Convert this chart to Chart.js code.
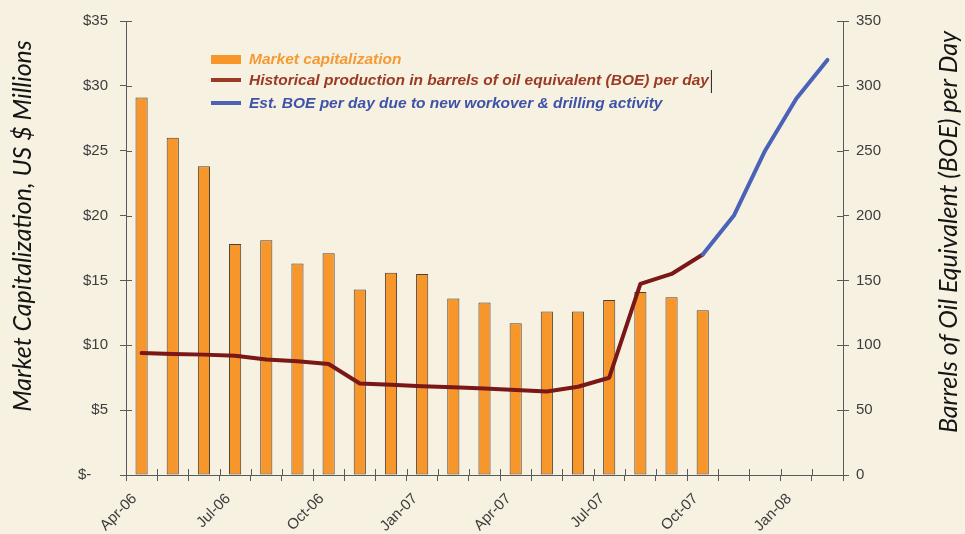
<!DOCTYPE html>
<html>
<head>
<meta charset="utf-8">
<script src="https://cdn.jsdelivr.net/npm/chart.js@4.4.0/dist/chart.umd.min.js"></script>
<style>
  html, body { margin: 0; padding: 0; background: #f6f1e1; }
  #grafico { display: block; background: #f6f1e1; }
</style>
</head>
<body>
<canvas id="grafico" width="965" height="534"></canvas>
<script>
// datos
const meses = ['Apr-06', 'May-06', 'Jun-06', 'Jul-06', 'Aug-06', 'Sep-06', 'Oct-06', 'Nov-06', 'Dec-06',
  'Jan-07', 'Feb-07', 'Mar-07', 'Apr-07', 'May-07', 'Jun-07', 'Jul-07', 'Aug-07', 'Sep-07', 'Oct-07',
  'Nov-07', 'Dec-07', 'Jan-08', 'Feb-08'];
const capitalizacion = [29.1, 26.0, 23.8, 17.8, 18.1, 16.3, 17.1, 14.3, 15.6, 15.5, 13.6, 13.3, 11.7,
  12.6, 12.6, 13.5, 14.1, 13.7, 12.7];
const produccionHistorica = [94, 93.3, 92.8, 92, 89, 87.7, 85.6, 70.5, 69.5, 68.5, 67.7, 66.7, 65.6,
  64.4, 68, 75, 147.4, 155, 170];
const produccionEstimada = [null, null, null, null, null, null, null, null, null, null, null, null, null,
  null, null, null, null, null, 170, 200, 250, 290, 320];
const etiquetasIzq = ['$-    ', '$5', '$10', '$15', '$20', '$25', '$30', '$35'];
const etiquetasDer = ['0', '50', '100', '150', '200', '250', '300', '350'];
const nombres = ['Market capitalization',
  'Historical production in barrels of oil equivalent (BOE) per day',
  'Est. BOE per day due to new workover & drilling activity'];
const tituloIzq = 'Market Capitalization, US $ Millions';
const tituloDer = 'Barrels of Oil Equivalent (BOE) per Day';

const colorEje = '#5a5a5a';
const colorTexto = '#3d3d3d';
const fuenteTicks = '"Liberation Sans", Arial, sans-serif';
const coloresLeyenda = ['#f59a35', '#9c3a23', '#3e53a8'];

// marcas que cruzan los ejes, titulos y leyenda
const extras = {
  id: 'extras',
  afterDraw(chart) {
    const { ctx, chartArea, scales } = chart;
    ctx.save();
    ctx.strokeStyle = colorEje;
    ctx.lineWidth = 1;
    ctx.beginPath();
    scales.y.ticks.forEach((t, i) => {
      const y = Math.round(scales.y.getPixelForTick(i)) + 0.5;
      ctx.moveTo(chartArea.left, y); ctx.lineTo(chartArea.left + 6, y);
    });
    scales.y1.ticks.forEach((t, i) => {
      const y = Math.round(scales.y1.getPixelForTick(i)) + 0.5;
      ctx.moveTo(chartArea.right - 6, y); ctx.lineTo(chartArea.right, y);
    });
    const paso = scales.x.getPixelForValue(1) - scales.x.getPixelForValue(0);
    for (let i = 0; i <= meses.length; i++) {
      const x = Math.round(scales.x.getPixelForValue(0) - paso / 2 + i * paso) + 0.5;
      ctx.moveTo(x, chartArea.bottom - 6); ctx.lineTo(x, chartArea.bottom);
    }
    ctx.stroke();

    // titulos de los ejes
    ctx.fillStyle = '#151515';
    ctx.font = 'italic 25px Lato, sans-serif';
    ctx.textAlign = 'center';
    ctx.textBaseline = 'middle';
    ctx.save();
    ctx.translate(23, 226); ctx.rotate(-Math.PI / 2);
    ctx.fillText(tituloIzq, 0, 0);
    ctx.restore();
    ctx.save();
    ctx.translate(949, 232); ctx.rotate(-Math.PI / 2);
    ctx.fillText(tituloDer, 0, 0);
    ctx.restore();

    // leyenda
    const filas = [60, 81, 104];
    ctx.textAlign = 'left';
    ctx.font = 'italic bold 15.5px "Liberation Sans", Arial, sans-serif';
    chart.data.datasets.forEach((ds, i) => {
      const y = filas[i];
      if (i === 0) {
        ctx.fillStyle = ds.backgroundColor;
        ctx.fillRect(211, y - 5, 30, 9);
      } else {
        ctx.strokeStyle = i === 1 ? coloresLeyenda[1] : ds.borderColor;
        ctx.lineWidth = 4;
        ctx.beginPath(); ctx.moveTo(211, y - 1); ctx.lineTo(241, y - 1); ctx.stroke();
      }
      ctx.fillStyle = coloresLeyenda[i];
      ctx.fillText(ds.label, 249, y);
      if (i === 1) {
        // cursor que aparece en el original
        const w = ctx.measureText(ds.label).width;
        ctx.strokeStyle = '#222'; ctx.lineWidth = 1;
        ctx.beginPath(); ctx.moveTo(249 + w + 2.5, y - 11); ctx.lineTo(249 + w + 2.5, y + 12); ctx.stroke();
      }
    });
    ctx.restore();
  }
};

const grafico = new Chart(document.getElementById('grafico'), {
  type: 'bar',
  data: {
    labels: meses,
    datasets: [
      { type: 'bar', label: nombres[0], data: capitalizacion, yAxisID: 'y', order: 3,
        backgroundColor: '#f7962b', borderColor: '#4e4036', borderWidth: 1, borderSkipped: false,
        categoryPercentage: 1, barPercentage: 0.39 },
      { type: 'line', label: nombres[1], data: produccionHistorica, yAxisID: 'y1', order: 2,
        borderColor: '#7a1717', borderWidth: 4, pointRadius: 0, tension: 0,
        borderJoinStyle: 'round', borderCapStyle: 'round', spanGaps: false },
      { type: 'line', label: nombres[2], data: produccionEstimada, yAxisID: 'y1', order: 1,
        borderColor: '#4a62b8', borderWidth: 4, pointRadius: 0, tension: 0,
        borderJoinStyle: 'round', borderCapStyle: 'round', spanGaps: false }
    ]
  },
  options: {
    responsive: false,
    animation: false,
    layout: { padding: { top: 19, left: 0, right: 0, bottom: 0 } },
    plugins: { legend: { display: false }, tooltip: { enabled: false } },
    scales: {
      x: {
        grid: { display: true, drawOnChartArea: false, drawTicks: true, tickLength: 6, color: colorEje, offset: true },
        border: { display: true, color: colorEje, width: 1 },
        ticks: {
          autoSkip: false, maxRotation: 45, minRotation: 45, padding: 9, labelOffset: -7,
          color: colorTexto, font: { family: fuenteTicks, size: 15 },
          callback: (v, i) => (i % 3 === 0 ? meses[i] : '')
        },
        afterFit: (s) => { s.height = 59; }
      },
      y: {
        position: 'left', min: 0, max: 35,
        grid: { display: true, drawOnChartArea: false, drawTicks: true, tickLength: 6, color: colorEje },
        border: { display: true, color: colorEje, width: 1 },
        ticks: { stepSize: 5, padding: 12, color: colorTexto, font: { family: fuenteTicks, size: 15 },
          callback: (v, i) => etiquetasIzq[i] },
        afterFit: (s) => { s.width = 126; }
      },
      y1: {
        position: 'right', min: 0, max: 350,
        grid: { display: true, drawOnChartArea: false, drawTicks: true, tickLength: 6, color: colorEje },
        border: { display: true, color: colorEje, width: 1 },
        ticks: { stepSize: 50, padding: 7, color: colorTexto, font: { family: fuenteTicks, size: 15 },
          callback: (v, i) => etiquetasDer[i] },
        afterFit: (s) => { s.width = 122; }
      }
    }
  },
  plugins: [extras]
});
</script>
</body>
</html>
